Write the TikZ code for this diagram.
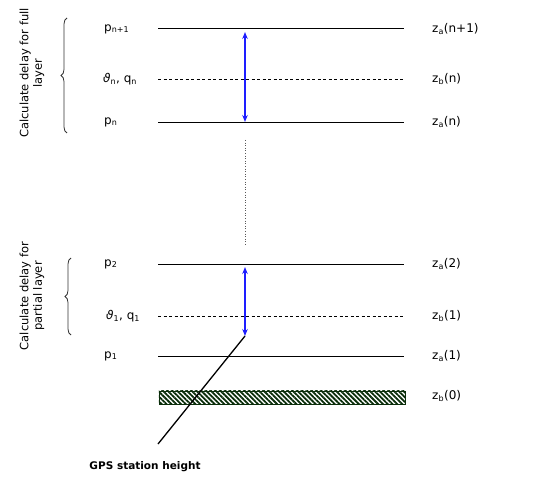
\documentclass[tikz,border=0pt]{standalone}
\usepackage{fontspec}
\setmainfont{DejaVu Sans}
\usetikzlibrary{patterns.meta,arrows.meta,decorations.pathreplacing}
\definecolor{hatchgreen}{RGB}{10,45,10}
\definecolor{arrblue}{RGB}{30,30,255}
\begin{document}
\begin{tikzpicture}[x=1pt,y=-1pt,
  lvl/.style={line width=0.8pt},
  dlvl/.style={line width=0.7pt, dash pattern=on 3pt off 2.5pt},
  lab/.style={font=\fontsize{12}{14}\selectfont, inner sep=0pt},
  blarrow/.style={arrblue, line width=1.1pt, {Stealth[length=7pt,width=5.5pt]}-{Stealth[length=7pt,width=5.5pt]}},
  side/.style={font=\fontsize{11.5}{13.5}\selectfont, align=center, rotate=90, inner sep=0pt}]
\useasboundingbox (0,0) rectangle (554,478);
% levels
\coordinate (a1) at (158,28);  \coordinate (a2) at (404,28);
\coordinate (b1) at (158,79);  \coordinate (b2) at (404,79);
\coordinate (c1) at (158,122); \coordinate (c2) at (404,122);
\coordinate (d1) at (158,264); \coordinate (d2) at (404,264);
\coordinate (e1) at (158,316); \coordinate (e2) at (404,316);
\coordinate (f1) at (158,356); \coordinate (f2) at (404,356);
\draw[lvl] (a1) -- (a2);
\draw[dlvl] (b1) -- (b2);
\draw[lvl] (c1) -- (c2);
\draw[lvl] (d1) -- (d2);
\draw[dlvl] (e1) -- (e2);
\draw[lvl] (f1) -- (f2);
% hatched ground
\node[draw=hatchgreen, line width=0.7pt, minimum width=246pt, minimum height=13pt, inner sep=0pt,
  pattern={Lines[angle=-45,distance=3.4pt,line width=1.8pt]}, pattern color=hatchgreen,
  anchor=north west] (gnd) at (158,390) {};
% left labels
\node[lab, anchor=west] (pn1) at (104,29) {p\textsubscript{n+1}};
\node[lab, anchor=west] (tn) at (103,79) {\textit{ϑ}\textsubscript{n}, q\textsubscript{n}};
\node[lab, anchor=west] (pn) at (104,122) {p\textsubscript{n}};
\node[lab, anchor=west] (p2) at (104,264) {p\textsubscript{2}};
\node[lab, anchor=west] (t1) at (106,316) {\textit{ϑ}\textsubscript{1}, q\textsubscript{1}};
\node[lab, anchor=west] (p1) at (104,356) {p\textsubscript{1}};
% right labels
\node[lab, anchor=west] (za1) at (432,29) {z\textsubscript{a}(n+1)};
\node[lab, anchor=west] (zb1) at (432,79) {z\textsubscript{b}(n)};
\node[lab, anchor=west] (za2) at (432,122) {z\textsubscript{a}(n)};
\node[lab, anchor=west] (za3) at (432,264) {z\textsubscript{a}(2)};
\node[lab, anchor=west] (zb2) at (432,316) {z\textsubscript{b}(1)};
\node[lab, anchor=west] (za4) at (432,356) {z\textsubscript{a}(1)};
\node[lab, anchor=west] (zb3) at (432,396) {z\textsubscript{b}(0)};
% arrows
\coordinate (u1) at (245,32);  \coordinate (u2) at (245,122);
\coordinate (l1) at (245,267); \coordinate (l2) at (245,336);
\draw[blarrow] (u1) -- (u2);
\draw[blarrow] (l1) -- (l2);
% dotted connector
\coordinate (v1) at (245,140); \coordinate (v2) at (245,245);
\draw[line width=0.6pt, dotted, gray!70!black] (v1) -- (v2);
% station line
\coordinate (s2) at (158,444);
\draw[line width=1.3pt] (l2) -- (s2);
\node[font=\bfseries\fontsize{10.5}{12}\selectfont, inner sep=0pt] (gps) at (145,467) {GPS station height};
% braces
\draw[line width=0.8pt, gray!40!black, decorate, decoration={brace, amplitude=6pt}] (67,133) -- (67,18);
\draw[line width=0.8pt, gray!40!black, decorate, decoration={brace, amplitude=6pt}] (71,335) -- (71,258);
\node[side] (s1) at (32,73) {Calculate delay for full\\layer};
\node[side] (s2t) at (32,296) {Calculate delay for\\partial layer};
\end{tikzpicture}
\end{document}
